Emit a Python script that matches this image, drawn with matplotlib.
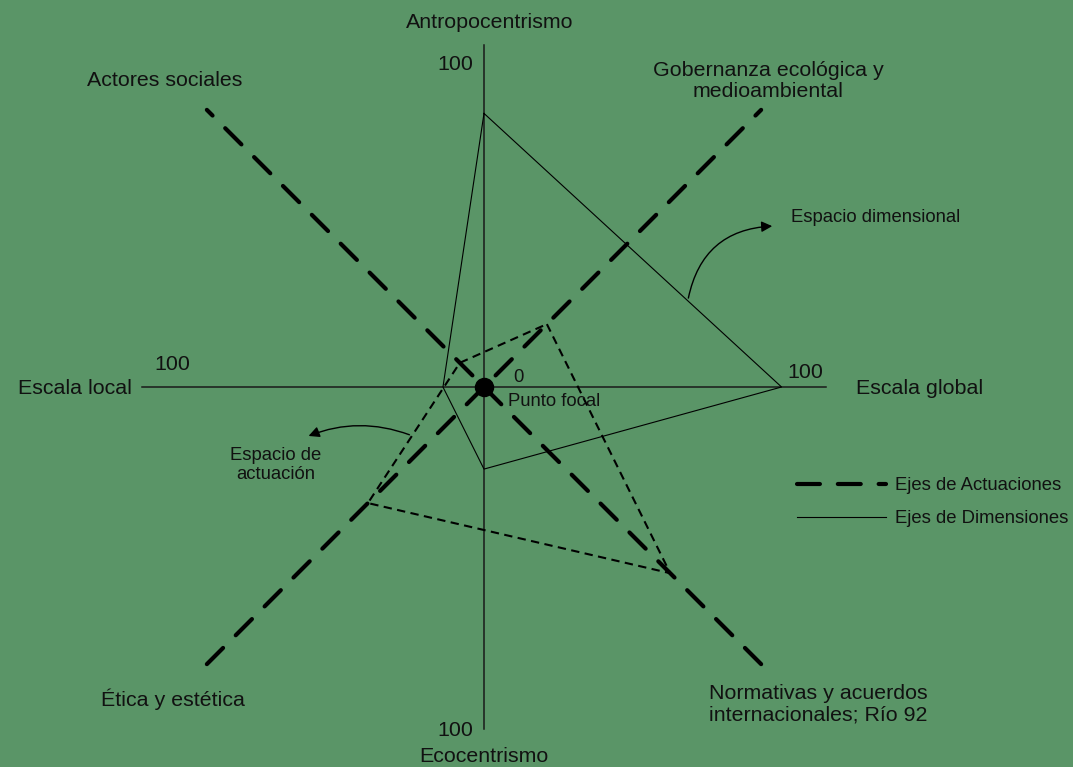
import numpy as np
import matplotlib.pyplot as plt
from matplotlib.patches import FancyArrowPatch
from matplotlib.lines import Line2D

plt.rcParams['font.family'] = ['Liberation Sans', 'DejaVu Sans']
plt.rcParams['text.color'] = '#111111'

# dimension axes (solid), values 0-100 along each axis
dim_labels = ['Antropocentrismo', 'Escala global', 'Ecocentrismo', 'Escala local']
dim_angles = [90, 0, 270, 180]
dim_values = [80, 87, 24, 12]

# actuation axes (thick dashed), radial values
act_labels = ['Gobernanza ecológica y\nmedioambiental', 'Normativas y acuerdos\ninternacionales; Río 92',
              'Ética y estética', 'Actores sociales']
act_angles = [45, -45, 225, 135]
act_values = [26, 77, 48, 10]
act_axis_len = 114.6

axis_max = 100
axis_ticks = ['100', '100', '100', '100']

bg = '#5a9567'
S = 3.42  # pixels per unit

def px(x, y):
    # pixel position in the picture -> data coordinates
    return (x - 484) / S, (387 - y) / S

def polar(r, a):
    a = np.radians(a)
    return r * np.cos(a), r * np.sin(a)

fig = plt.figure(figsize=(10.73, 7.67), dpi=100)
fig.patch.set_facecolor(bg)
ax = fig.add_axes([0, 0, 1, 1])
ax.set_facecolor(bg)
ax.set_xlim(-484 / S, 589 / S)
ax.set_ylim(-380 / S, 387 / S)
ax.axis('off')

# dimension axes
ax.plot([-axis_max, axis_max], [0, 0], color='#1a1a1a', lw=1.1)
ax.plot([0, 0], [-axis_max, axis_max], color='#1a1a1a', lw=1.1)

# actuation axes
for a in [45, 135]:
    x0, y0 = polar(act_axis_len, a)
    ax.plot([-x0, x0], [-y0, y0], color='black', lw=3.0,
            dashes=(5.5, 4.3), dash_capstyle='round')

# dimension space polygon
dx, dy = zip(*[polar(v, a) for v, a in zip(dim_values, dim_angles)])
dx = list(dx) + [dx[0]]
dy = list(dy) + [dy[0]]
ax.plot(dx, dy, color='black', lw=0.8)

# actuation space polygon
axx, ayy = zip(*[polar(v, a) for v, a in zip(act_values, act_angles)])
axx = list(axx) + [axx[0]]
ayy = list(ayy) + [ayy[0]]
ax.plot(axx, ayy, color='black', lw=1.5, dashes=(4, 2.6))

# focal point
ax.plot(0, 0, 'o', color='black', markersize=13)

# curved arrows
t = 0.685
s0 = (dx[0] + t * (dx[1] - dx[0]), dy[0] + t * (dy[1] - dy[0]))
ax.add_patch(FancyArrowPatch(s0, px(775, 226), connectionstyle='arc3,rad=-0.4',
                             arrowstyle='-|>', mutation_scale=16, color='black', lw=1.0))
t = 0.52
s1 = (axx[3] + t * (axx[2] - axx[3]), ayy[3] + t * (ayy[2] - ayy[3]))
ax.add_patch(FancyArrowPatch(s1, px(306, 437), connectionstyle='arc3,rad=0.2',
                             arrowstyle='-|>', mutation_scale=16, color='black', lw=1.0))

big = 15.4
small = 13.3
ax.text(*px(490, 22), dim_labels[0], ha='center', va='center', fontsize=big)
ax.text(*px(920, 388), dim_labels[1], ha='center', va='center', fontsize=big)
ax.text(*px(484, 757), dim_labels[2], ha='center', va='center', fontsize=big)
ax.text(*px(75, 388), dim_labels[3], ha='center', va='center', fontsize=big)

ax.text(*px(768, 81), act_labels[0], ha='center', va='center', fontsize=big, linespacing=1.15)
ax.text(*px(709, 704), act_labels[1], ha='left', va='center', fontsize=big, linespacing=1.15)
ax.text(*px(173, 699), act_labels[2], ha='center', va='center', fontsize=big)
ax.text(*px(165, 80), act_labels[3], ha='center', va='center', fontsize=big)

ax.text(*px(455, 65), axis_ticks[0], ha='center', va='center', fontsize=big)
ax.text(*px(805, 373), axis_ticks[1], ha='center', va='center', fontsize=big)
ax.text(*px(455, 730), axis_ticks[2], ha='center', va='center', fontsize=big)
ax.text(*px(172, 364), axis_ticks[3], ha='center', va='center', fontsize=big)

ax.text(*px(518, 378), '0', ha='center', va='center', fontsize=small)
ax.text(*px(508, 401), 'Punto focal', ha='left', va='center', fontsize=small)
ax.text(*px(791, 217), 'Espacio dimensional', ha='left', va='center', fontsize=small)
ax.text(*px(276, 465), 'Espacio de\nactuación', ha='center', va='center', fontsize=small, linespacing=1.2)

handles = [Line2D([], [], color='black', lw=3.0, dashes=(5.5, 4.3), dash_capstyle='round'),
           Line2D([], [], color='black', lw=0.8)]
ax.legend(handles, ['Ejes de Actuaciones', 'Ejes de Dimensiones'], loc='upper left',
          bbox_to_anchor=(797 / 1073, 1 - 477 / 767), frameon=False, fontsize=small,
          handlelength=4.8, handletextpad=0.5, labelspacing=0.87, borderpad=0, borderaxespad=0)

fig.savefig('out.png', dpi=100, facecolor=bg)
